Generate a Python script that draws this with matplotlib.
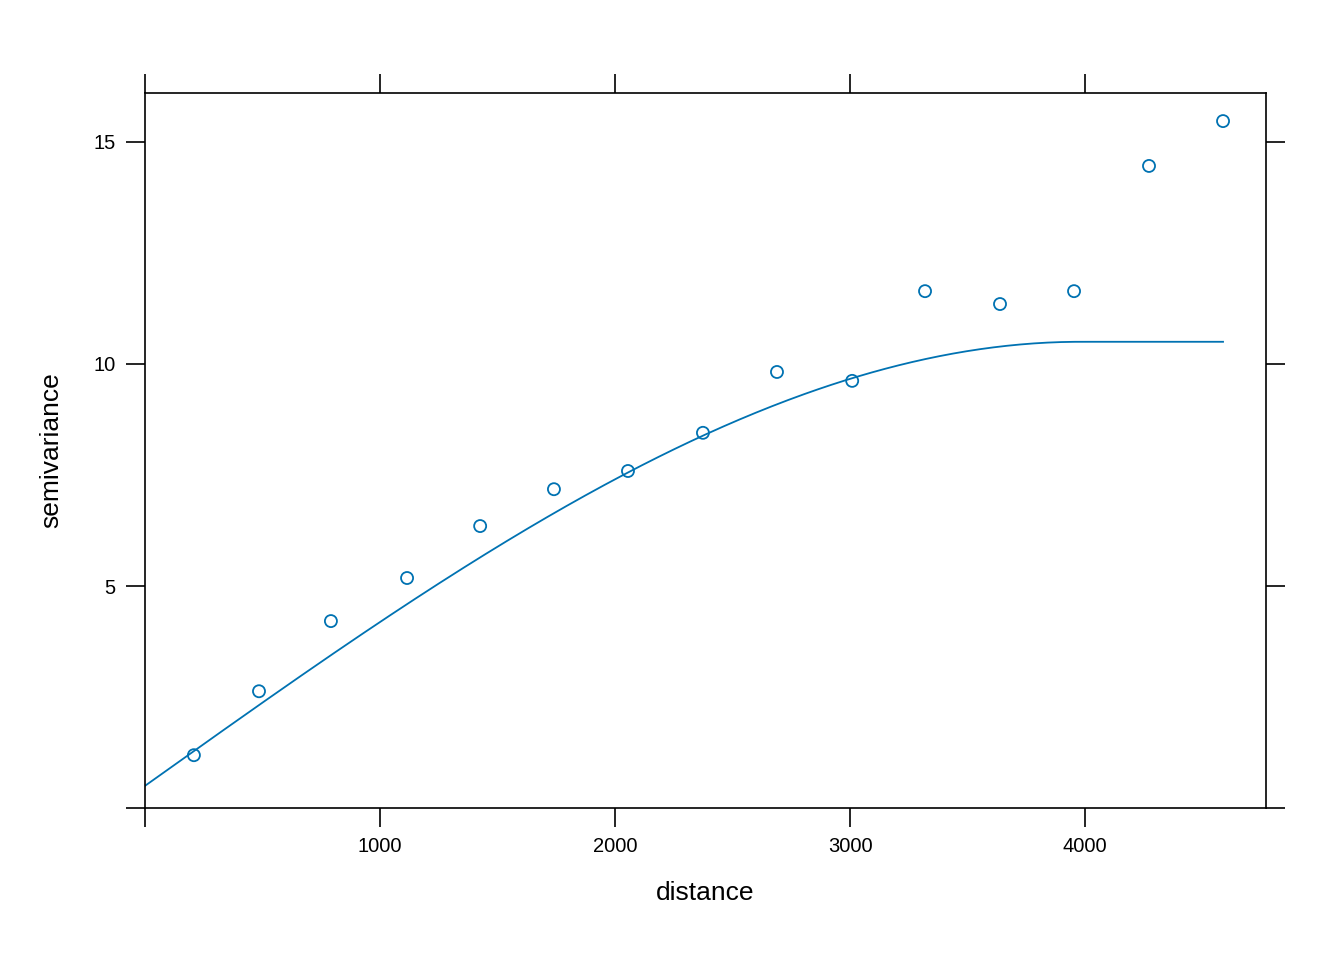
import numpy as np
import matplotlib.pyplot as plt

plt.rcParams['font.family'] = ['Liberation Sans', 'DejaVu Sans']

dist = [208, 485, 791, 1115, 1426, 1740, 2055, 2374, 2689, 3009, 3319, 3638, 3953, 4272, 4587]
gamma = [1.19, 2.63, 4.21, 5.18, 6.35, 7.18, 7.59, 8.45, 9.82, 9.62, 11.64, 11.35, 11.64, 14.46, 15.47]

# fitted spherical model
nugget = 0.5
psill = 10.0
vrange = 3980

color = '#0072B2'

h = np.linspace(0, max(dist), 400)
r = np.minimum(h / vrange, 1.0)
model = nugget + psill * (1.5 * r - 0.5 * r ** 3)

fig = plt.figure(figsize=(13.44, 9.6), dpi=100)
ax = fig.add_axes([0.1079, 0.1583, 0.8341, 0.7447])

ax.plot(h, model, color=color, linewidth=1.3)
ax.scatter(dist, gamma, s=75, facecolors='none', edgecolors=color, linewidths=1.3, zorder=3)

ax.set_xlim(0, 4770)
ax.set_ylim(0, 16.1)
ax.tick_params(direction='out', length=14, width=1.2, labelsize=14.5,
               top=True, right=True, pad=7)
ax.set_xticks([0, 1000, 2000, 3000, 4000], ['', '1000', '2000', '3000', '4000'])
ax.set_yticks([0, 5, 10, 15], ['', '5', '10', '15'])
for s in ax.spines.values():
    s.set_linewidth(1.2)

ax.set_xlabel('distance', fontsize=19, labelpad=18)
ax.set_ylabel('semivariance', fontsize=19, labelpad=22)

plt.savefig('out.png', dpi=100)
